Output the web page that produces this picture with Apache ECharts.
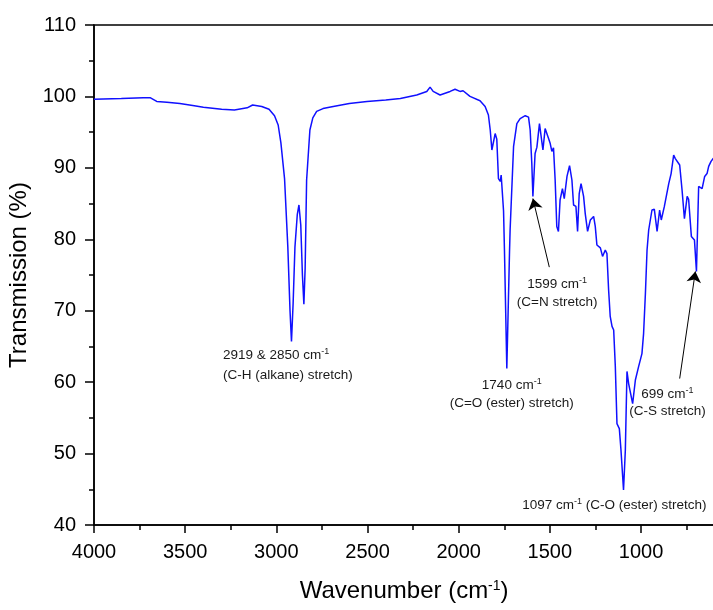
<!DOCTYPE html>
<html><head><meta charset="utf-8">
<script src="https://cdn.jsdelivr.net/npm/echarts@6/dist/echarts.min.js"></script>
<style>html,body{margin:0;padding:0;background:#fff}#c{width:713px;height:610px}</style>
</head><body><div id="c"></div>
<script>
// Spectrum (wavenumber in cm-1, transmission in %)
const wavenumbers = [4000,3850,3730,3690,3656,3600,3529,3450,3400,3300,3230,3160,3130,3080,3040,3010,2990,2975,2955,2937,2925,2917,2908,2898,2885,2876,2866,2857,2849,2842,2834,2816,2800,2779,2744,2688,2600,2503,2400,2320,2230,2175,2157,2140,2102,2047,2020,1993,1976,1938,1883,1855,1837,1827,1818,1800,1791,1782,1772,1767,1754,1749,1736,1721,1718,1699,1681,1663,1635,1617,1608,1599,1593,1581,1571,1557,1549,1538,1526,1507,1498,1489,1480,1471,1462,1453,1444,1431,1421,1406,1392,1379,1370,1357,1348,1339,1329,1315,1306,1293,1278,1260,1251,1242,1223,1211,1196,1187,1178,1169,1159,1150,1141,1132,1119,1110,1096,1086,1077,1068,1059,1046,1031,1013,995,986,976,967,958,940,927,912,898,889,872,848,835,821,812,802,788,775,762,747,739,724,715,707,696,684,665,651,638,629,616,605,600];
const transmission = [99.6,99.7,99.8,99.8,99.3,99.2,99.0,98.7,98.5,98.2,98.1,98.4,98.8,98.6,98.2,97.3,96.0,93.5,88.5,78.9,70.0,65.7,71.0,78.9,83.5,84.8,82.0,75.0,70.9,76.0,88.3,95.3,97.0,97.9,98.3,98.6,99.0,99.3,99.5,99.7,100.2,100.7,101.3,100.7,100.2,100.7,101.0,100.7,100.8,100.0,99.4,98.6,97.4,95.3,92.5,94.8,94.0,88.5,88.1,89.0,84.0,78.5,61.9,78.5,81.3,93.0,96.2,96.9,97.3,97.1,95.3,90.6,86.0,92.0,92.9,96.2,96.2,92.5,95.5,94.1,93.4,92.3,92.8,88.3,81.8,81.1,85.5,87.1,85.7,88.8,90.3,88.3,84.8,84.6,81.1,86.4,87.8,86.0,83.6,81.1,82.7,83.2,81.8,79.2,78.8,77.6,78.5,78.0,73.0,69.2,67.8,67.3,62.2,54.2,53.5,50.5,44.9,50.5,61.5,59.8,59.6,57.0,60.3,62.2,64.0,66.8,72.4,78.5,81.3,84.1,84.2,81.1,84.1,82.7,84.6,87.8,89.2,91.8,91.3,91.5,90.4,86.9,82.9,86.0,85.6,80.4,80.6,79.9,75.5,87.4,87.1,88.8,89.2,90.2,90.9,91.3,91.4];

// Annotation lines: text, anchor (data coords), alignment
const annoText = [
  '{t|2919 & 2850 cm}{s|-1}', '{t|(C-H (alkane) stretch)}',
  '{t|1740 cm}{s|-1}', '{t|(C=O (ester) stretch)}',
  '{t|1599 cm}{s|-1}', '{t|(C=N stretch)}',
  '{t|699 cm}{s|-1}', '{t|(C-S stretch)}',
  '{t|1097 cm}{s|-1}{t| (C-O (ester) stretch)}'
];
const annoWn = [3293, 3293, 1709, 1709, 1460, 1460, 855, 855, 1146];
const annoT  = [63.8, 61.0, 59.6, 57.1, 73.7, 71.2, 58.3, 55.9, 42.8];
const annoAlign = ['left','left','center','center','center','center','center','center','center'];

// Arrows (from -> to), data coords
const arrowFrom = [[1503, 76.1], [788, 60.5]];
const arrowTo   = [[1593, 85.7], [702, 75.5]];

const FONT = "'Liberation Sans', Arial, sans-serif";
const chart = echarts.init(document.getElementById('c'), null, {renderer: 'canvas'});

const option = {
  animation: false,
  backgroundColor: '#fff',
  grid: {left: 94, top: 25, height: 500, width: 638.2, outerBoundsMode: 'none', containLabel: false,
         show: true, borderColor: '#000', borderWidth: 1.5, backgroundColor: 'transparent'},
  xAxis: {
    type: 'value', inverse: true, min: 500, max: 4000, interval: 500,
    name: '{a|Wavenumber (cm}{s|-1}{a|)}', nameLocation: 'middle', nameGap: 54,
    nameTextStyle: {fontFamily: FONT, color: '#000', padding: [0, 18, 0, 0], rich: {
      a: {fontSize: 24, fontFamily: FONT, color: '#000'},
      s: {fontSize: 14, fontFamily: FONT, color: '#000', verticalAlign: 'top', padding: [0,0,8,0]}}},
    axisLine: {show: true, onZero: false, lineStyle: {color: '#000', width: 1.5}},
    axisTick: {show: true, inside: false, length: 8, lineStyle: {color: '#000', width: 1.5}},
    minorTick: {show: true, splitNumber: 2, length: 5, lineStyle: {color: '#000', width: 1.5}},
    axisLabel: {fontSize: 20, fontFamily: FONT, color: '#000', margin: 17, formatter: v => String(v)},
    splitLine: {show: false}
  },
  yAxis: {
    type: 'value', min: 40, max: 110, interval: 10,
    name: 'Transmission (%)', nameLocation: 'middle', nameGap: 50,
    nameTextStyle: {fontSize: 24, fontFamily: FONT, color: '#000'},
    axisLine: {show: true, onZero: false, lineStyle: {color: '#000', width: 1.5}},
    axisTick: {show: true, inside: false, length: 9, lineStyle: {color: '#000', width: 1.5}},
    minorTick: {show: true, splitNumber: 2, length: 5, lineStyle: {color: '#000', width: 1.5}},
    axisLabel: {fontSize: 20, fontFamily: FONT, color: '#000', margin: 18, formatter: v => String(v)},
    splitLine: {show: false}
  },
  series: [{
    type: 'line',
    data: wavenumbers.map((w, i) => [w, transmission[i]]),
    showSymbol: false, symbol: 'none',
    lineStyle: {color: '#1010ff', width: 1.5},
    clip: true,
    markLine: {
      silent: true, animation: false,
      symbol: ['none', 'arrow'], symbolSize: 11,
      label: {show: false},
      lineStyle: {color: '#000', width: 1, type: 'solid'},
      itemStyle: {color: '#000'},
      data: arrowFrom.map((f, i) => [{coord: f}, {coord: arrowTo[i]}])
    }
  }]
};
chart.setOption(option);

const richStyles = {
  t: {fontSize: 13.5, fontFamily: FONT, fill: '#1a1a1a', lineHeight: 16},
  s: {fontSize: 9, fontFamily: FONT, fill: '#1a1a1a', verticalAlign: 'top', lineHeight: 10}
};
const graphics = annoText.map((txt, i) => {
  const p = chart.convertToPixel({xAxisIndex: 0, yAxisIndex: 0}, [annoWn[i], annoT[i]]);
  return {
    type: 'text', x: p[0], y: p[1], silent: true,
    style: {text: txt, align: annoAlign[i], verticalAlign: 'middle', rich: richStyles, fill: '#1a1a1a', font: '13.5px ' + FONT}
  };
});
chart.setOption({graphic: graphics});
</script></body></html>
